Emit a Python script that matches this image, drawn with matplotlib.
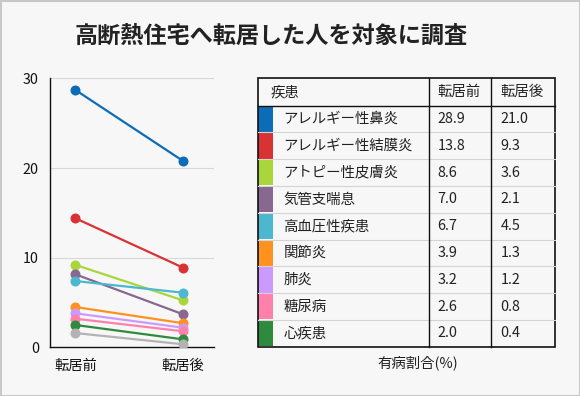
import matplotlib
matplotlib.use("Agg")
import matplotlib.pyplot as plt
from matplotlib.patches import Rectangle

plt.rcParams['font.family'] = ['Noto Sans CJK JP', 'DejaVu Sans']

# ---- data ----
title = "高断熱住宅へ転居した人を対象に調査"
periods = ["転居前", "転居後"]
# values as drawn on the slope chart
before = [28.7, 14.4, 9.2, 8.15, 7.4, 4.5, 3.8, 3.2, 2.5, 1.6]
after = [20.8, 8.9, 5.25, 3.7, 6.1, 2.7, 2.2, 1.8, 0.9, 0.35]
colors = ['#0b6db7', '#d93235', '#a9d63a', '#87688f', '#4bb8cf',
          '#ff911e', '#cc99ff', '#ff80ab', '#2e8b3e', '#b3b3b3']
# table
diseases = ["アレルギー性鼻炎", "アレルギー性結膜炎", "アトピー性皮膚炎", "気管支喘息",
            "高血圧性疾患", "関節炎", "肺炎", "糖尿病", "心疾患"]
table_before = ["28.9", "13.8", "8.6", "7.0", "6.7", "3.9", "3.2", "2.6", "2.0"]
table_after = ["21.0", "9.3", "3.6", "2.1", "4.5", "1.3", "1.2", "0.8", "0.4"]
header = ["疾患", "転居前", "転居後"]
unit_label = "有病割合(%)"
yticks = [0, 10, 20, 30]

W, H = 580, 396
BG = '#f7f7f7'
fig = plt.figure(figsize=(W / 100, H / 100), dpi=100, facecolor=BG)

# ---- slope chart ----
ax = fig.add_axes([50 / W, (H - 347.4) / H, 164 / W, (347.4 - 78.3) / H])
ax.set_facecolor(BG)
for b, a, c in zip(before, after, colors):
    ax.plot([0, 1], [b, a], color=c, lw=1.6, marker='o', ms=6.2,
            solid_capstyle='round', zorder=3)
ax.set_ylim(0, 30)
ax.set_xlim(-0.236, 1.29)
ax.set_yticks(yticks)
ax.set_xticks([0, 1])
ax.set_xticklabels(periods)
ax.tick_params(length=0, labelsize=10.3, colors='#111111')
ax.tick_params(axis='y', pad=8)
ax.tick_params(axis='x', pad=8)
for y in yticks[1:]:
    ax.axhline(y, color='#d8d8d8', lw=0.8, zorder=1)
for s in ['top', 'right']:
    ax.spines[s].set_visible(False)
ax.spines['left'].set_color('#111111')
ax.spines['bottom'].set_color('#111111')
ax.spines['left'].set_linewidth(1.0)
ax.spines['bottom'].set_linewidth(1.0)

# ---- overlay for title, table, frame ----
ov = fig.add_axes([0, 0, 1, 1], facecolor='none')
ov.set_xlim(0, W)
ov.set_ylim(H, 0)
ov.axis('off')

ov.text(271, 36, title, ha='center', va='center', fontsize=16.7,
        fontweight='bold', color='#222222')

# frame border
ov.add_patch(Rectangle((0.5, 0.5), W - 1, H - 1, fill=False, ec='#c8c8c8', lw=1.5))

# table geometry
tx0, tx1 = 258.3, 555.3
c1, c2 = 429.3, 491.3
ty0, thead = 78.3, 105.7
rh = (346.7 - thead) / len(diseases)
ty1 = thead + rh * len(diseases)

# row separators (light)
for i in range(1, len(diseases)):
    y = thead + i * rh
    ov.plot([tx0, tx1], [y, y], color='#d4d4d4', lw=0.8)
# colour strips
for i, c in enumerate(colors[:len(diseases)]):
    y = thead + i * rh
    ov.add_patch(Rectangle((tx0, y + 0.6), 14.4, rh - 1.2, color=c, lw=0))
# header line
ov.plot([tx0, tx1], [thead, thead], color='#111111', lw=1.0)
# outer border and column lines
ov.add_patch(Rectangle((tx0, ty0), tx1 - tx0, ty1 - ty0, fill=False,
                       ec='#111111', lw=1.2))
for x in (c1, c2):
    ov.plot([x, x], [ty0, ty1], color='#111111', lw=1.0)

fs = 10.4
# header text
hy = (ty0 + thead) / 2
ov.text(270.7, hy, header[0], ha='left', va='center', fontsize=fs, color='#222222')
ov.text(437.7, hy, header[1], ha='left', va='center', fontsize=fs, color='#222222')
ov.text(500.7, hy, header[2], ha='left', va='center', fontsize=fs, color='#222222')

for i, (d, b, a) in enumerate(zip(diseases, table_before, table_after)):
    y = thead + (i + 0.5) * rh
    ov.text(283.3, y, d, ha='left', va='center', fontsize=fs, color='#222222')
    ov.text(437.7, y, b, ha='left', va='center', fontsize=fs, color='#222222')
    ov.text(500.7, y, a, ha='left', va='center', fontsize=fs, color='#222222')

ov.text(418, 363, unit_label, ha='center', va='center', fontsize=fs, color='#222222')

fig.savefig('out.png', dpi=100, facecolor=BG)
